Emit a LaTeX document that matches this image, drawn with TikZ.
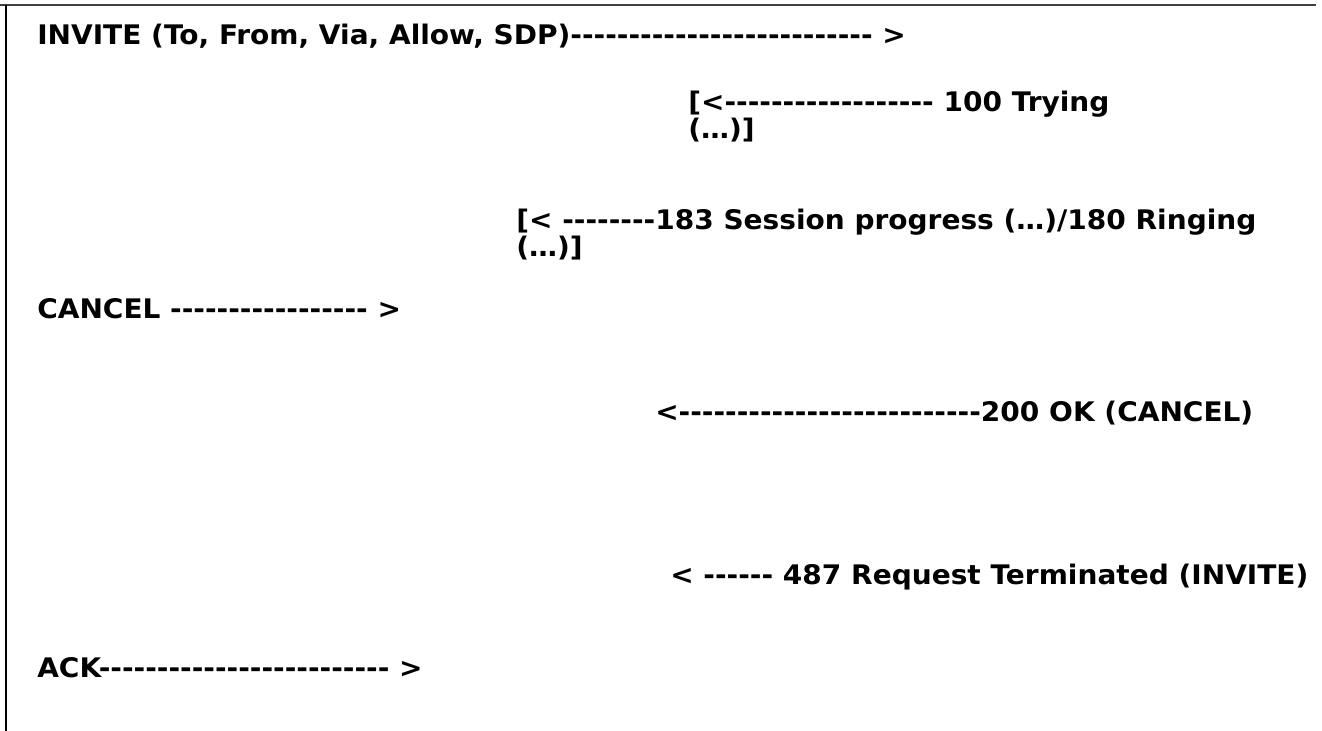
\documentclass[tikz,border=0pt]{standalone}
\usepackage{fontspec}
\newfontfamily\msgfont{DejaVu Sans}[FakeStretch=1.04]
\begin{document}
\begin{tikzpicture}[x=0.75pt,y=-0.75pt,
  msg/.style={anchor=base west,inner sep=0pt,font=\msgfont\bfseries\fontsize{20.2}{19.5}\selectfont,align=left},
  frame/.style={line width=1.5pt}]
\useasboundingbox (0,0) rectangle (1322,731);
\coordinate (tl) at (0,5);
\coordinate (tr) at (1316,5);
\coordinate (lt) at (6,5);
\coordinate (lb) at (6,731);
\draw[frame,color=black!75] (tl) -- (tr);
\draw[frame] (lt) -- (lb);
\node[msg] (invite) at (37,45) {INVITE (To, From, Via, Allow, SDP)-------------------------- >};
\node[msg] (trying) at (688,139) {[<------------------ 100 Trying\\(…)]};
\node[msg] (ringing) at (516,257) {[< --------183 Session progress (…)/180 Ringing\\(…)]};
\node[msg] (cancel) at (37,318) {CANCEL ----------------- >};
\node[msg] (ok) at (655,421) {<--------------------------200 OK (CANCEL)};
\node[msg] (term) at (670,584) {< ------ 487 Request Terminated (INVITE)};
\node[msg] (ack) at (37,677) {ACK------------------------- >};
\end{tikzpicture}
\end{document}
